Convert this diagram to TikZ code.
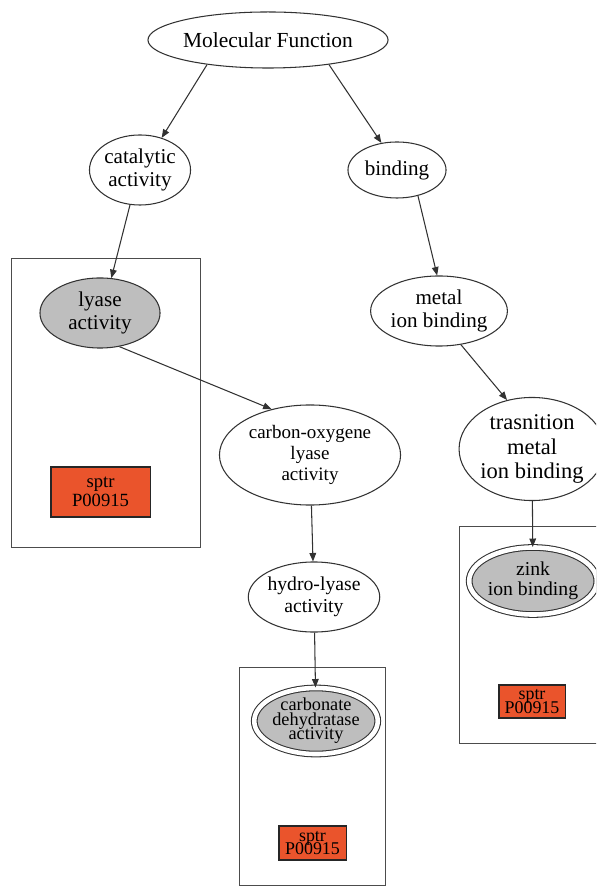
\documentclass[tikz,border=0pt]{standalone}
\usepackage{fontspec}
\setmainfont{Liberation Serif}
\usetikzlibrary{shapes.geometric,arrows.meta}
\definecolor{hitgray}{RGB}{190,190,190}
\definecolor{sporange}{RGB}{234,84,44}
\definecolor{edgegray}{RGB}{50,50,50}
\newcommand{\tightlines}{\lineskiplimit=-20pt\relax}

\begin{document}
\begin{tikzpicture}[x=0.01cm, y=-0.01cm,
    term/.style={ellipse, draw=edgegray, line width=0.3pt, inner sep=0pt, align=center},
    hit/.style={term, fill=hitgray, double=white, double distance=1.3pt},
    sptr/.style={rectangle, draw=black!85, line width=0.3pt, fill=sporange, inner sep=0pt, align=center},
    grp/.style={draw=black!70, line width=0.28pt},
    isa/.style={-{Triangle[length=2.4pt,width=1.9pt]}, draw=edgegray, line width=0.3pt}]
    \clip (0,0) rectangle (596,886);

    % Gruppen
    \draw[grp] (11,258) rectangle (200,547);
    \draw[grp] (239,667) rectangle (385,885);
    \draw[grp] (459,526) rectangle (610,743);

    % Begriffe
    \node[term, minimum width=2cm, minimum height=0.56cm, font=\fontsize{6.1}{6.6}\selectfont] (mf) at (268,40) {Molecular Function};
    \node[term, minimum width=1cm, minimum height=0.7cm, font=\fontsize{6}{6.5}\selectfont] (cat) at (140,170) {catalytic\\activity};
    \node[term, minimum width=0.98cm, minimum height=0.56cm, font=\fontsize{6}{6.5}\selectfont] (bind) at (397,170) {binding};
    \node[term, fill=hitgray, minimum width=1.2cm, minimum height=0.7cm, font=\fontsize{6}{6.5}\selectfont] (lyase) at (100,313) {lyase\\activity};
    \node[term, minimum width=1.81cm, minimum height=1cm, font=\fontsize{5.4}{6}\selectfont] (carb) at (310,455) {carbon-oxygene\\lyase\\activity};
    \node[term, minimum width=1.3cm, minimum height=0.7cm, font=\fontsize{5.6}{6.3}\selectfont] (hydro) at (314,597) {hydro-lyase\\activity};
    \node[term, minimum width=1cm, minimum height=0.7cm, font=\fontsize{6}{6.5}\selectfont] (metal) at (439,311) {metal\\ion binding};
    \node[term, minimum width=1.27cm, minimum height=1.03cm, font=\fontsize{6.4}{7}\selectfont] (trans) at (532,449) {trasnition\\metal\\ion binding};

    % Treffer
    \node[hit, minimum width=1.07cm, minimum height=0.66cm, font=\fontsize{5.2}{4.1}\selectfont\tightlines] (cda) at (316,721) {carbonate\\dehydratase\\activity};
    \node[hit, minimum width=1.05cm, minimum height=0.67cm, font=\fontsize{5.6}{5.7}\selectfont] (zink) at (533,581) {zink\\ion binding};

    % Proteine
    \node[sptr, minimum width=0.99cm, minimum height=0.5cm, font=\fontsize{5.3}{5.4}\selectfont] (sp1) at (100.5,492) {sptr\\P00915};
    \node[sptr, minimum width=0.67cm, minimum height=0.34cm, font=\fontsize{5.1}{3.9}\selectfont\tightlines] (sp2) at (312.5,843) {sptr\\P00915};
    \node[sptr, minimum width=0.66cm, minimum height=0.33cm, font=\fontsize{5.1}{3.9}\selectfont\tightlines] (sp3) at (532,701.5) {sptr\\P00915};

    % Kanten
    \draw[isa] (mf.202) -- (cat.56);
    \draw[isa] (mf.338) -- (bind.120);
    \draw[isa] (cat.254) -- (lyase.72);
    \draw[isa] (lyase.300) -- (carb.130);
    \draw[isa] (carb) -- (hydro);
    \draw[isa] (hydro) -- (cda);
    \draw[isa] (bind.309) -- (metal.93);
    \draw[isa] (metal.303) -- (trans.117);
    \draw[isa] (trans) -- (zink);
\end{tikzpicture}
\end{document}
